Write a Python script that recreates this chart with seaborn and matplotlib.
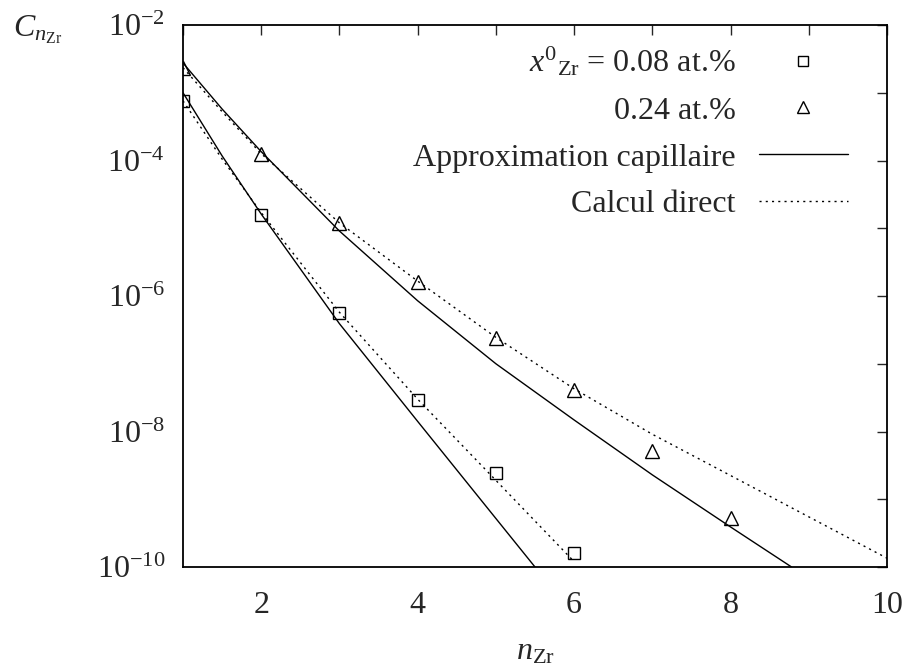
import numpy as np
import pandas as pd
import matplotlib
matplotlib.use('Agg')
import matplotlib.pyplot as plt
from matplotlib.lines import Line2D
from matplotlib.ticker import NullLocator
import seaborn as sns

# markers
n_low = [1, 2, 3, 4, 5, 6]
c_low = [7.6e-4, 1.57e-5, 5.6e-7, 2.9e-8, 2.4e-9, 1.6e-10]
n_high = [1, 2, 3, 4, 5, 6, 7, 8]
c_high = [2.3e-3, 1.25e-4, 1.2e-5, 1.6e-6, 2.4e-7, 4.1e-8, 5.1e-9, 5.3e-10]

# capillary approximation (solid)
n_cap_low = [1, 1.5, 2, 3, 4, 5, 5.5]
c_cap_low = [1.0e-3, 1.17e-4, 1.62e-5, 3.9e-7, 1.41e-8, 5.2e-10, 1.0e-10]
n_cap_high = [1, 1.5, 2, 3, 4, 5, 6, 7, 8, 8.78]
c_cap_high = [2.75e-3, 5.75e-4, 1.35e-4, 9.1e-6, 8.5e-7, 1.0e-7, 1.48e-8, 2.29e-9, 3.9e-10, 1.0e-10]

# direct calculation (dotted)
n_dir_low = [1, 1.5, 2, 3, 4, 5, 6]
c_dir_low = [7.6e-4, 1.05e-4, 1.7e-5, 5.75e-7, 3.0e-8, 1.9e-9, 1.2e-10]
n_dir_high = [1, 1.5, 2, 3, 4, 5, 6, 7, 8, 9, 10]
c_dir_high = [2.34e-3, 5.25e-4, 1.26e-4, 1.2e-5, 1.66e-6, 2.45e-7, 4.27e-8, 9.1e-9, 2.24e-9, 5.5e-10, 1.35e-10]

labels = [r'$x^{0}{}_{\mathrm{Zr}}$ = 0.08 at.%', '0.24 at.%',
          'Approximation capillaire', 'Calcul direct']

sns.set_style('white')
plt.rcParams['font.family'] = ['Liberation Serif', 'DejaVu Serif']
plt.rcParams['mathtext.fontset'] = 'custom'
plt.rcParams['mathtext.rm'] = 'Liberation Serif'
plt.rcParams['mathtext.it'] = 'Liberation Serif:italic'
plt.rcParams['mathtext.bf'] = 'Liberation Serif:bold'

fs = 23
fig = plt.figure(figsize=(9.11, 6.71), dpi=100)
ax = fig.add_axes([183 / 911, 104 / 671, 704 / 911, 542 / 671])
ax.set_yscale('log')

dotted = (0, (1.5, 3))
sns.lineplot(x=n_cap_low, y=c_cap_low, color='black', linewidth=1, ax=ax)
sns.lineplot(x=n_cap_high, y=c_cap_high, color='black', linewidth=1, ax=ax)
sns.lineplot(x=n_dir_low, y=c_dir_low, color='black', linewidth=1, linestyle=dotted, ax=ax)
sns.lineplot(x=n_dir_high, y=c_dir_high, color='black', linewidth=1, linestyle=dotted, ax=ax)

sns.lineplot(x=n_low, y=c_low, linestyle='', marker='s', markersize=9,
             markerfacecolor='none', markeredgecolor='black', markeredgewidth=1, ax=ax)
sns.lineplot(x=n_high, y=c_high, linestyle='', marker='^', markersize=10,
             markerfacecolor='none', markeredgecolor='black', markeredgewidth=1, ax=ax)

ax.set_xlim(1, 10)
ax.set_ylim(1e-10, 1e-2)

decades = [10.0 ** k for k in range(-10, -1)]
ylabs = [r'$10^{%d}$' % k if k % 2 == 0 else '' for k in range(-10, -1)]
ax.set_yticks(decades, labels=ylabs)
ax.yaxis.set_minor_locator(NullLocator())
ax.set_xticks(range(1, 11), labels=[str(v) if v % 2 == 0 else '' for v in range(1, 11)])

ax.tick_params(direction='in', top=True, right=True, length=7, width=1,
               labelsize=fs, pad=13)
ax.tick_params(axis='x', pad=17)
for sp in ax.spines.values():
    sp.set_linewidth(1.3)
    sp.set_color('black')

ax.set_xlabel(r'$n_{\mathrm{Zr}}$', fontsize=fs, labelpad=13)
fig.text(13 / 911, 1 - 36 / 671, r'$C_{n_{\mathrm{Zr}}}$', fontsize=fs,
         ha='left', va='baseline')

handles = [
    Line2D([], [], linestyle='', marker='s', markersize=7, markerfacecolor='none',
           markeredgecolor='black', markeredgewidth=1),
    Line2D([], [], linestyle='', marker='^', markersize=8, markerfacecolor='none',
           markeredgecolor='black', markeredgewidth=1),
    Line2D([], [], color='black', linewidth=1),
    Line2D([], [], color='black', linewidth=1, linestyle=dotted),
]
ax.legend(handles, labels, loc='upper right', frameon=False, markerfirst=False,
          fontsize=fs, handlelength=2.8, handletextpad=0.72, labelspacing=0.55,
          borderpad=0, borderaxespad=0,
          bbox_to_anchor=(848 / 911, 1 - 45 / 671), bbox_transform=fig.transFigure)

fig.savefig('out.png', dpi=100)
